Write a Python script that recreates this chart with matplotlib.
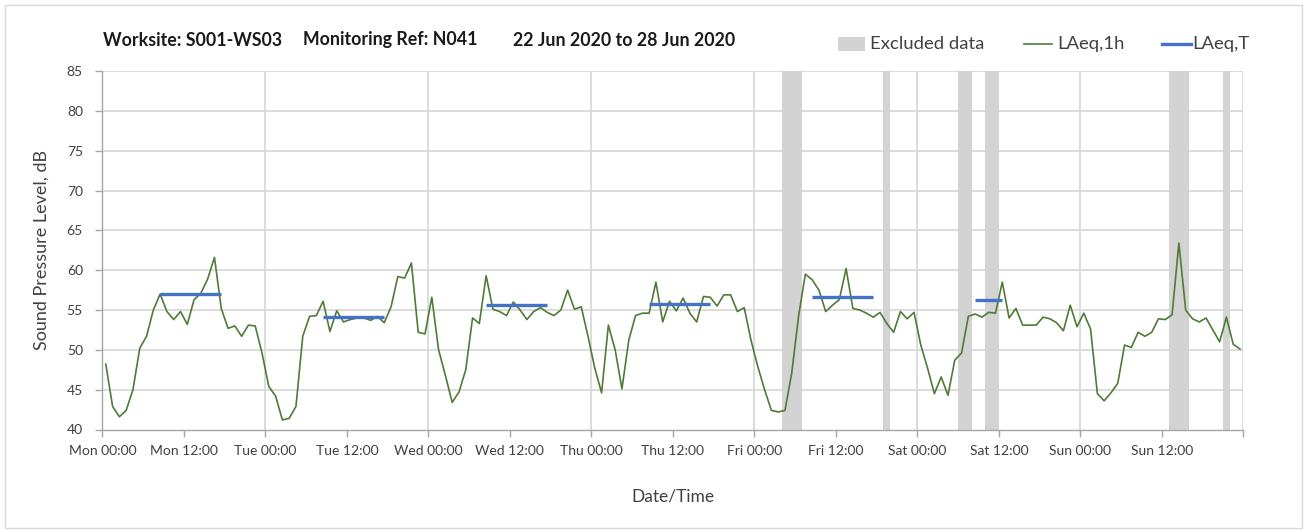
import matplotlib
matplotlib.use("Agg")
import matplotlib.pyplot as plt
from matplotlib.lines import Line2D
from matplotlib.patches import Rectangle
import numpy as np

plt.rcParams["font.family"] = ["Lato", "DejaVu Sans"]

# Hourly LAeq values (dB), Mon 00:00 .. Sun 23:00
laeq_1h = [
    48.2, 42.9, 41.6, 42.4, 45.0, 50.2, 51.7, 55.0, 57.0, 54.8, 53.8, 54.8,
    53.2, 56.3, 57.1, 58.9, 61.6, 55.2, 52.7, 53.0, 51.7, 53.1, 53.0, 49.6,
    45.4, 44.2, 41.2, 41.4, 42.9, 51.7, 54.2, 54.3, 56.1, 52.3, 54.9, 53.5,
    53.8, 54.0, 54.0, 53.7, 54.2, 53.4, 55.4, 59.2, 59.0, 60.9, 52.2, 52.0,
    56.6, 50.0, 46.8, 43.4, 44.7, 47.5, 54.0, 53.3, 59.3, 55.1, 54.8, 54.3,
    56.0, 55.0, 53.8, 54.8, 55.3, 54.7, 54.3, 55.0, 57.5, 55.1, 55.4, 51.7,
    47.7, 44.6, 53.1, 50.0, 45.1, 51.2, 54.3, 54.6, 54.6, 58.5, 53.5, 56.1,
    54.9, 56.5, 54.6, 53.5, 56.7, 56.6, 55.5, 56.9, 56.9, 54.8, 55.3, 51.2,
    47.9, 45.0, 42.4, 42.2, 42.4, 47.1, 54.2, 59.5, 58.8, 57.5, 54.8, 55.6,
    56.3, 60.2, 55.2, 55.0, 54.6, 54.1, 54.7, 53.3, 52.2, 54.8, 53.9, 54.7,
    50.6, 47.7, 44.5, 46.6, 44.3, 48.7, 49.6, 54.2, 54.5, 54.1, 54.7, 54.6,
    58.5, 54.0, 55.2, 53.1, 53.1, 53.1, 54.1, 53.9, 53.4, 52.4, 55.6, 52.9,
    54.6, 52.6, 44.5, 43.6, 44.6, 45.8, 50.6, 50.3, 52.2, 51.7, 52.2, 53.9,
    53.8, 54.4, 63.4, 55.0, 53.9, 53.5, 54.0, 52.5, 51.0, 54.1, 50.7, 50.1,
]

# Excluded periods, hours from Mon 00:00
excluded_start = [100, 115, 126, 130, 157, 165]
excluded_end = [103, 116, 128, 132, 160, 166]

# Period LAeq,T (dB) and their periods, hours from Mon 00:00
laeq_t = [57.0, 54.1, 55.6, 55.8, 56.6, 56.2]
laeq_t_start = [8.5, 32.5, 56.5, 80.5, 104.5, 128.5]
laeq_t_end = [17.5, 41.5, 65.5, 89.5, 113.5, 132.5]

tick_labels = [
    "Mon 00:00", "Mon 12:00", "Tue 00:00", "Tue 12:00", "Wed 00:00",
    "Wed 12:00", "Thu 00:00", "Thu 12:00", "Fri 00:00", "Fri 12:00",
    "Sat 00:00", "Sat 12:00", "Sun 00:00", "Sun 12:00", "",
]

title_parts = ["Worksite: S001-WS03", "Monitoring Ref: N041",
               "22 Jun 2020 to 28 Jun 2020"]

GREEN = "#4f7b37"
BLUE = "#4472c4"
BAND = "#d3d3d3"
GRID = "#d9d9d9"
TEXT = "#404040"

W, H = 1309, 531
fig = plt.figure(figsize=(W / 100, H / 100), dpi=100)
ax = fig.add_axes([102.4 / W, 1 - 429.5 / H, (1243.4 - 102.4) / W,
                   (429.5 - 71) / H])

hours = np.arange(len(laeq_1h)) + 0.5

for s, e in zip(excluded_start, excluded_end):
    ax.axvspan(s, e, color=BAND, lw=0, zorder=1)

ax.plot(hours, laeq_1h, color=GREEN, lw=1.2, zorder=3)
for v, s, e in zip(laeq_t, laeq_t_start, laeq_t_end):
    ax.plot([s, e], [v, v], color=BLUE, lw=2.4, solid_capstyle="butt",
            zorder=4)

ax.set_xlim(0, 168)
ax.set_ylim(40, 85)
ax.set_yticks(np.arange(40, 86, 5))
ax.set_xticks(np.arange(0, 169, 12))
ax.set_xticklabels(tick_labels)

for y in np.arange(45, 86, 5):
    ax.axhline(y, color=GRID, lw=1.3, zorder=0)
for x in np.arange(24, 169, 24):
    ax.axvline(x, color=GRID, lw=1.3, zorder=0)

for side in ("top", "right"):
    ax.spines[side].set_visible(False)
for side in ("left", "bottom"):
    ax.spines[side].set_color("#a6a6a6")
    ax.spines[side].set_linewidth(1.0)
ax.tick_params(axis="both", colors="#a6a6a6", length=5, width=1.0,
               labelcolor=TEXT, labelsize=10)
ax.tick_params(axis="y", pad=9)
ax.tick_params(axis="x", pad=6)

ax.set_ylabel("Sound Pressure Level, dB", fontsize=13, color=TEXT,
              labelpad=12)
ax.set_xlabel("Date/Time", fontsize=12.5, color=TEXT, labelpad=23)

# Title pieces
title_x = [103, 303, 513]
for tx, part in zip(title_x, title_parts):
    fig.text(tx / W, 1 - 40 / H, part, fontsize=12.8, fontweight="bold",
             color="#1a1a1a", va="center", ha="left")

# Legend
ly = 1 - 44 / H
fig.add_artist(Rectangle((838 / W, ly - 7 / H), 27 / W, 14 / H,
                         transform=fig.transFigure, color=BAND, lw=0))
fig.text(870 / W, ly, "Excluded data", fontsize=13.3, color=TEXT,
         va="center", ha="left")
fig.add_artist(Line2D([1024 / W, 1052 / W], [ly, ly], color=GREEN, lw=1.2,
                      transform=fig.transFigure))
fig.text(1057 / W, ly, "LAeq,1h", fontsize=13.3, color=TEXT, va="center",
         ha="left")
fig.add_artist(Line2D([1162 / W, 1191 / W], [ly, ly], color=BLUE, lw=2.4,
                      transform=fig.transFigure))
fig.text(1192 / W, ly, "LAeq,T", fontsize=13.3, color=TEXT, va="center",
         ha="left")

# Chart frame
fig.add_artist(Rectangle((5 / W, 3 / H), 1297 / W, 523 / H,
                         transform=fig.transFigure, fill=False,
                         edgecolor="#d9d9d9", lw=1.0))

fig.savefig("out.png", dpi=100)
